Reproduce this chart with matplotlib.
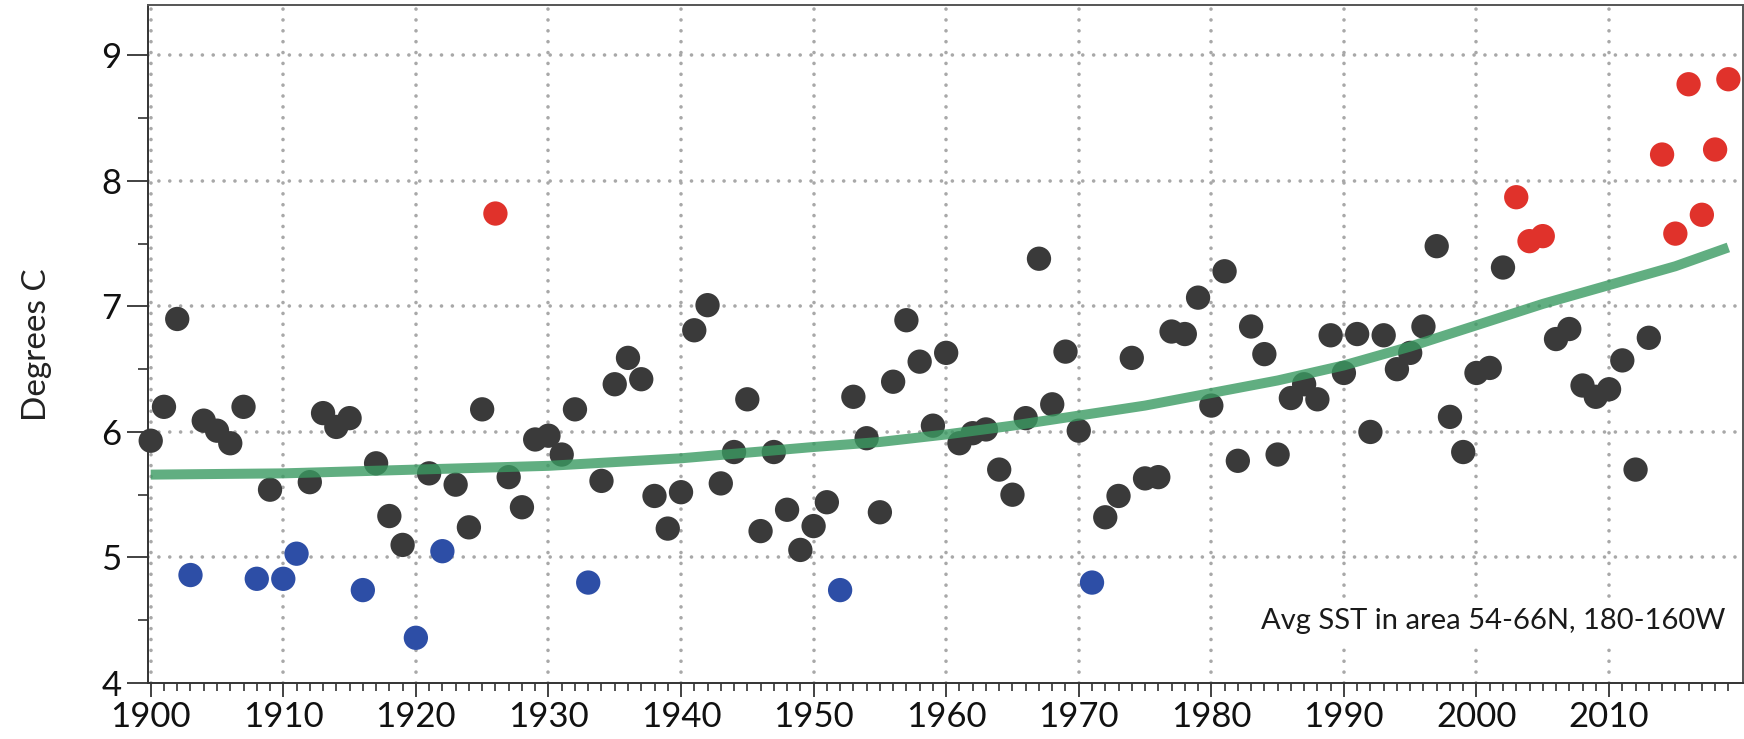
import matplotlib
matplotlib.use("Agg")
import matplotlib.pyplot as plt
import numpy as np

years = list(range(1900, 2020))
sst = [5.93, 6.20, 6.90, 4.86, 6.09, 6.01, 5.91, 6.20, 4.83, 5.54,
       4.83, 5.03, 5.60, 6.15, 6.04, 6.11, 4.74, 5.75, 5.33, 5.10,
       4.36, 5.67, 5.05, 5.58, 5.24, 6.18, 7.74, 5.64, 5.40, 5.94,
       5.97, 5.82, 6.18, 4.80, 5.61, 6.38, 6.59, 6.42, 5.49, 5.23,
       5.52, 6.81, 7.01, 5.59, 5.84, 6.26, 5.21, 5.84, 5.38, 5.06,
       5.25, 5.44, 4.74, 6.28, 5.95, 5.36, 6.40, 6.89, 6.56, 6.05,
       6.63, 5.91, 5.99, 6.02, 5.70, 5.50, 6.11, 7.38, 6.22, 6.64,
       6.01, 4.80, 5.32, 5.49, 6.59, 5.63, 5.64, 6.80, 6.78, 7.07,
       6.21, 7.28, 5.77, 6.84, 6.62, 5.82, 6.27, 6.38, 6.26, 6.77,
       6.47, 6.78, 6.00, 6.77, 6.50, 6.63, 6.84, 7.48, 6.12, 5.84,
       6.47, 6.51, 7.31, 7.87, 7.52, 7.56, 6.74, 6.82, 6.37, 6.28,
       6.34, 6.57, 5.70, 6.75, 8.21, 7.58, 8.77, 7.73, 8.25, 8.81]
cold_years = [1903, 1908, 1910, 1911, 1916, 1920, 1922, 1933, 1952, 1971]
warm_years = [1926, 2003, 2004, 2005, 2014, 2015, 2016, 2017, 2018, 2019]

trend_years = [1900, 1910, 1920, 1930, 1940, 1950, 1955, 1960, 1965, 1970, 1975,
               1980, 1985, 1990, 1995, 2000, 2005, 2010, 2015, 2019]
trend_vals = [5.66, 5.67, 5.70, 5.73, 5.79, 5.88, 5.92, 5.98, 6.05, 6.13, 6.21,
              6.31, 6.41, 6.53, 6.68, 6.85, 7.02, 7.17, 7.32, 7.47]

x_major = list(range(1900, 2020, 10))
y_major = [4, 5, 6, 7, 8, 9]
ylabel = "Degrees C"
note = "Avg SST in area 54-66N, 180-160W"

plt.rcParams['font.family'] = ['Lato', 'DejaVu Sans']

fig = plt.figure(figsize=(17.44, 7.39), dpi=100)
ax = fig.add_axes([0.0849, 0.0758, 0.9145, 0.9172])

grid_kw = dict(color='#a8a8a8', linewidth=2.6, linestyle=(0, (0.01, 3.0)),
               dash_capstyle='round', zorder=1)
for xv in x_major:
    ax.axvline(xv, **grid_kw)
for yv in y_major[1:]:
    ax.axhline(yv, **grid_kw)

colors = []
for yr in years:
    if yr in cold_years:
        colors.append('#2d4ea6')
    elif yr in warm_years:
        colors.append('#e0322b')
    else:
        colors.append('#3a3a3a')
ax.scatter(years, sst, s=17.5**2, c=colors, linewidths=0, zorder=3, clip_on=False)

ax.plot(trend_years, trend_vals, color='#3a9a62', alpha=0.8, linewidth=7.2,
        solid_capstyle='butt', zorder=4)

ax.text(2018.8, 4.495, note, ha='right', va='center', fontsize=21, color='#1a1a1a',
        zorder=5, bbox=dict(facecolor='white', edgecolor='none', pad=6))

ax.set_xlim(1899.8, 2020.1)
ax.set_ylim(4, 9.4)
ax.set_xticks(x_major)
ax.set_xticks(years, minor=True)
ax.set_yticks(y_major)
ax.set_yticks([4.5, 5.5, 6.5, 7.5, 8.5], minor=True)
ax.tick_params(axis='both', which='major', labelsize=25, colors='#333333',
               labelcolor='#111111', width=1.3)
ax.tick_params(axis='x', which='major', length=10, pad=3)
ax.tick_params(axis='x', which='minor', length=6, width=1.2, colors='#333333')
ax.tick_params(axis='y', which='major', length=15, pad=4)
ax.tick_params(axis='y', which='minor', length=7.5, width=1.2, colors='#333333')

for side in ['left', 'bottom']:
    ax.spines[side].set_color('#333333')
    ax.spines[side].set_linewidth(1.4)
for side in ['top', 'right']:
    ax.spines[side].set_color('#555555')
    ax.spines[side].set_linewidth(1.4)

fig.text(0.021, 0.533, ylabel, rotation=90, ha='center', va='center',
         fontsize=24, color='#222222')

fig.savefig('out.png', dpi=100)
